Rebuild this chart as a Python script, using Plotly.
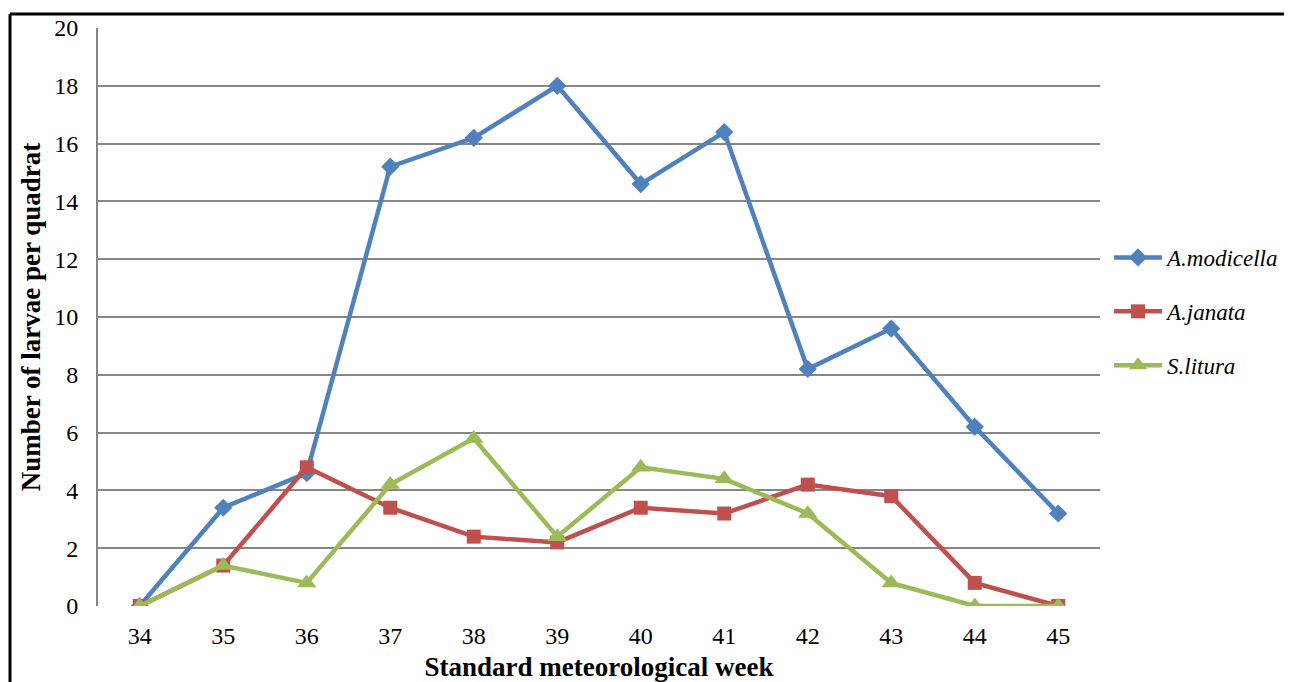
import plotly.graph_objects as go

weeks = [34, 35, 36, 37, 38, 39, 40, 41, 42, 43, 44, 45]
a_modicella = [0, 3.4, 4.6, 15.2, 16.2, 18, 14.6, 16.4, 8.2, 9.6, 6.2, 3.2]
a_janata = [0, 1.4, 4.8, 3.4, 2.4, 2.2, 3.4, 3.2, 4.2, 3.8, 0.8, 0]
s_litura = [0, 1.4, 0.8, 4.2, 5.8, 2.4, 4.8, 4.4, 3.2, 0.8, 0, 0]
y_ticks = [0, 2, 4, 6, 8, 10, 12, 14, 16, 18, 20]

series = [
    ("A.modicella", a_modicella, "#4F81BD", "diamond", 14),
    ("A.janata", a_janata, "#C0504D", "square", 14),
    ("S.litura", s_litura, "#9BBB59", "triangle-up", 17),
]

fig = go.Figure()
for name, vals, col, sym, sz in series:
    fig.add_trace(go.Scatter(
        x=weeks, y=vals, mode="lines+markers", name=name, legendgroup=name,
        line=dict(color=col, width=4.5),
        marker=dict(symbol=sym, size=sz, color=col),
    ))

OFF = 8  # page body margin
PW, PH = 1292, 682
L, R, T, B = 98, 1100, 28, 606  # plot area in page pixels
pw, ph = R - L, B - T
FW, FH = 1310, PH - OFF

def px(x):
    return (x - L) / pw

def py(y):
    return (B - y) / ph

def cx(x):
    return (x - OFF) / FW

def cy(y):
    return 1 - (y - OFF) / FH

fig.update_layout(
    width=FW, height=FH,
    margin=dict(l=L - OFF, r=(OFF + FW) - R, t=T - OFF, b=(OFF + FH) - B, autoexpand=False),
    paper_bgcolor="white", plot_bgcolor="white",
    font=dict(family="Liberation Serif, Times New Roman, serif", size=24, color="black"),
    xaxis=dict(
        range=[33.5, 45.5], tickvals=weeks, ticktext=[str(w) for w in weeks],
        showgrid=False, showline=False, zeroline=False, ticks="", automargin=False,
        tickfont=dict(size=24), ticklabelstandoff=13,
        title=dict(text="<b>Standard meteorological week</b>", font=dict(size=27), standoff=11),
    ),
    yaxis=dict(
        range=[0, 20], tickvals=y_ticks, showgrid=True, gridcolor="#868686", gridwidth=2,
        showline=True, linecolor="#868686", linewidth=2, zeroline=False, ticks="", automargin=False,
        tickfont=dict(size=24), ticklabelstandoff=13,
        title=dict(text="<b>Number of larvae per quadrat</b>", font=dict(size=27), standoff=6),
    ),
    legend=dict(
        xref="container", yref="container",
        x=cx(1109), y=cy(236), xanchor="left", yanchor="top",
        font=dict(size=23, style="italic"), tracegroupgap=21,
        bgcolor="rgba(0,0,0,0)", itemwidth=48,
    ),
    shapes=[
        dict(type="line", xref="paper", yref="paper", x0=px(10), x1=px(1320), y0=py(14), y1=py(14),
             line=dict(color="black", width=3)),
        dict(type="line", xref="paper", yref="paper", x0=px(10), x1=px(10), y0=py(14), y1=py(700),
             line=dict(color="black", width=3)),
    ],
)

fig.write_html("out.html")
